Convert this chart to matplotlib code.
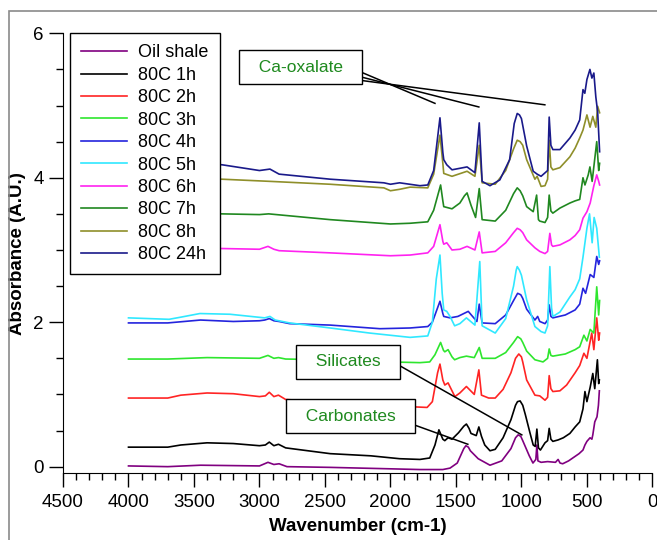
import matplotlib
matplotlib.use('Agg')
import matplotlib.pyplot as plt
from matplotlib.patches import Rectangle
from matplotlib.ticker import MultipleLocator

plt.rcParams['font.family'] = ['Liberation Sans', 'DejaVu Sans']

# (wavenumber cm-1, absorbance)
oil_shale = [(4000, 0.01), (3700, 0.0), (3450, 0.02), (3000, 0.01), (2935, 0.06), (2890, 0.03),
             (2850, 0.04), (2790, 0.0), (2460, -0.01), (2000, -0.03), (1775, -0.04), (1600, -0.04),
             (1545, -0.02), (1490, 0.05), (1460, 0.17), (1440, 0.25), (1424, 0.29), (1405, 0.27),
             (1390, 0.22), (1330, 0.11), (1240, 0.02), (1150, 0.08), (1080, 0.25), (1045, 0.40),
             (1025, 0.44), (1005, 0.42), (990, 0.36), (940, 0.15), (912, 0.05), (890, 0.10),
             (882, 0.30), (874, 0.08), (850, 0.06), (800, 0.07), (740, 0.06), (720, 0.10),
             (705, 0.05), (685, 0.04), (640, 0.08), (592, 0.14), (560, 0.18), (530, 0.23),
             (515, 0.30), (500, 0.35), (476, 0.40), (462, 0.38), (455, 0.44), (440, 0.62),
             (423, 0.69), (412, 0.85), (405, 1.05)]
h1 = [(4000, 0.27), (3700, 0.27), (3600, 0.30), (3400, 0.33), (3200, 0.32), (3000, 0.29),
      (2955, 0.30), (2925, 0.34), (2890, 0.29), (2855, 0.31), (2800, 0.26), (2460, 0.18),
      (2150, 0.15), (1930, 0.11), (1775, 0.10), (1700, 0.12), (1660, 0.30), (1630, 0.51),
      (1600, 0.38), (1585, 0.36), (1560, 0.40), (1530, 0.38), (1480, 0.47), (1440, 0.56),
      (1420, 0.59), (1400, 0.53), (1385, 0.46), (1345, 0.43), (1325, 0.55), (1305, 0.42),
      (1280, 0.30), (1240, 0.22), (1200, 0.24), (1140, 0.40), (1080, 0.65), (1045, 0.85),
      (1030, 0.90), (1010, 0.91), (990, 0.85), (970, 0.72), (935, 0.47), (910, 0.30),
      (895, 0.28), (882, 0.52), (870, 0.26), (855, 0.23), (820, 0.33), (800, 0.36),
      (788, 0.53), (775, 0.38), (760, 0.35), (720, 0.37), (680, 0.40), (630, 0.46),
      (590, 0.55), (555, 0.62), (530, 0.80), (515, 1.04), (500, 0.90), (475, 1.10),
      (455, 1.29), (440, 1.08), (420, 1.48), (410, 1.15), (405, 1.20)]
h2 = [(4000, 0.95), (3700, 0.95), (3600, 0.99), (3400, 1.02), (3200, 1.01), (3000, 0.97),
      (2955, 0.98), (2925, 1.03), (2890, 0.97), (2855, 0.99), (2800, 0.93), (2460, 0.89),
      (2000, 0.86), (1850, 0.83), (1720, 0.82), (1680, 0.90), (1640, 1.30), (1622, 1.42),
      (1600, 1.20), (1585, 1.13), (1560, 1.16), (1530, 1.05), (1508, 0.97), (1470, 1.02),
      (1420, 1.11), (1360, 1.00), (1325, 1.34), (1305, 0.99), (1250, 0.95), (1200, 0.95),
      (1140, 1.07), (1080, 1.30), (1045, 1.50), (1020, 1.56), (1000, 1.52), (990, 1.45),
      (960, 1.20), (897, 0.99), (860, 0.98), (820, 0.92), (800, 0.96), (788, 1.26),
      (775, 1.08), (760, 1.04), (706, 1.05), (655, 1.13), (590, 1.30), (555, 1.40),
      (523, 1.57), (500, 1.50), (463, 1.85), (447, 1.62), (425, 2.06), (410, 1.75), (403, 1.85)]
h3 = [(4000, 1.49), (3700, 1.49), (3400, 1.51), (3000, 1.50), (2935, 1.54), (2890, 1.50),
      (2855, 1.51), (2800, 1.49), (2460, 1.48), (2000, 1.45), (1775, 1.44), (1700, 1.45),
      (1660, 1.55), (1617, 1.72), (1595, 1.61), (1585, 1.59), (1560, 1.62), (1530, 1.52),
      (1510, 1.48), (1470, 1.51), (1420, 1.53), (1360, 1.51), (1322, 1.65), (1300, 1.50),
      (1200, 1.50), (1120, 1.58), (1060, 1.72), (1029, 1.80), (1005, 1.77), (990, 1.72),
      (960, 1.60), (897, 1.48), (835, 1.45), (800, 1.50), (788, 1.63), (775, 1.54),
      (760, 1.53), (665, 1.56), (590, 1.62), (555, 1.66), (523, 1.82), (500, 1.74),
      (475, 1.90), (447, 1.85), (425, 2.49), (410, 2.10), (403, 2.30)]
h4 = [(4000, 1.99), (3700, 1.99), (3450, 2.03), (3200, 2.01), (3000, 2.02), (2960, 2.03),
      (2925, 2.05), (2890, 2.02), (2850, 2.01), (2770, 1.98), (2460, 1.96), (2080, 1.91),
      (1850, 1.92), (1715, 1.94), (1680, 2.00), (1622, 2.29), (1600, 2.12), (1593, 2.08),
      (1545, 2.06), (1485, 2.08), (1406, 2.15), (1340, 2.01), (1322, 2.25), (1300, 1.99),
      (1200, 1.98), (1120, 2.10), (1060, 2.30), (1029, 2.40), (1005, 2.38), (990, 2.33),
      (960, 2.18), (897, 2.03), (876, 2.08), (860, 2.01), (820, 1.98), (800, 2.03),
      (788, 2.24), (775, 2.08), (760, 2.06), (665, 2.10), (590, 2.17), (555, 2.25),
      (530, 2.47), (510, 2.40), (475, 2.66), (447, 2.62), (425, 2.91), (410, 2.80), (403, 2.85)]
h5 = [(4000, 2.06), (3690, 2.04), (3600, 2.07), (3455, 2.12), (3225, 2.11), (2960, 2.06),
      (2920, 2.08), (2880, 2.03), (2770, 1.99), (2460, 1.92), (2160, 1.85), (1850, 1.79),
      (1715, 1.81), (1680, 2.00), (1650, 2.60), (1622, 2.93), (1605, 2.40), (1593, 2.17),
      (1570, 2.15), (1545, 2.08), (1510, 1.95), (1470, 1.98), (1420, 2.06), (1355, 1.96),
      (1318, 2.84), (1300, 1.95), (1200, 1.85), (1120, 2.05), (1060, 2.50), (1040, 2.72),
      (1032, 2.77), (1015, 2.72), (1000, 2.65), (960, 2.31), (897, 1.94), (850, 1.87),
      (820, 1.85), (800, 1.95), (783, 2.77), (770, 2.20), (760, 2.08), (706, 2.14),
      (630, 2.35), (590, 2.45), (555, 2.60), (530, 2.90), (500, 3.30), (480, 3.50),
      (460, 3.10), (445, 3.45), (425, 3.30), (405, 2.90)]
h6 = [(4000, 3.00), (3700, 3.00), (3287, 3.02), (3000, 3.01), (2935, 3.05), (2890, 3.01),
      (2850, 2.99), (2460, 2.96), (2000, 2.92), (1850, 2.93), (1715, 2.96), (1670, 3.05),
      (1622, 3.35), (1600, 3.12), (1593, 3.08), (1570, 3.10), (1530, 3.00), (1470, 3.01),
      (1415, 3.05), (1355, 3.00), (1322, 3.25), (1300, 2.96), (1200, 2.98), (1120, 3.10),
      (1060, 3.24), (1032, 3.30), (1010, 3.28), (990, 3.24), (960, 3.14), (897, 3.03),
      (860, 2.98), (820, 2.95), (800, 2.98), (783, 3.23), (770, 3.07), (760, 3.05),
      (706, 3.07), (630, 3.14), (590, 3.20), (555, 3.28), (530, 3.44), (500, 3.53),
      (475, 3.65), (447, 3.89), (425, 4.04), (410, 3.95), (403, 3.90)]
h7 = [(4000, 3.52), (3700, 3.51), (3287, 3.50), (3000, 3.49), (2930, 3.50), (2460, 3.42),
      (2000, 3.36), (1850, 3.37), (1715, 3.39), (1670, 3.55), (1617, 3.90), (1600, 3.68),
      (1593, 3.60), (1530, 3.57), (1470, 3.65), (1435, 3.75), (1415, 3.79), (1385, 3.62),
      (1350, 3.45), (1322, 3.85), (1300, 3.42), (1200, 3.40), (1120, 3.55), (1060, 3.78),
      (1032, 3.86), (1010, 3.82), (990, 3.75), (960, 3.60), (910, 3.53), (884, 3.76),
      (870, 3.42), (860, 3.40), (820, 3.38), (800, 3.45), (788, 3.76), (775, 3.54),
      (760, 3.51), (706, 3.58), (630, 3.65), (590, 3.68), (555, 3.70), (530, 4.00),
      (515, 3.90), (490, 4.04), (477, 4.15), (460, 3.95), (425, 4.50), (410, 4.10), (403, 4.20)]
h8 = [(4000, 4.00), (3700, 3.99), (3287, 3.98), (2920, 3.95), (2460, 3.91), (2050, 3.86),
      (2000, 3.82), (1930, 3.84), (1850, 3.87), (1715, 3.86), (1670, 4.05), (1622, 4.59),
      (1600, 4.20), (1593, 4.06), (1530, 4.02), (1415, 4.09), (1355, 4.02), (1322, 4.45),
      (1300, 3.93), (1200, 3.91), (1120, 4.10), (1060, 4.40), (1032, 4.52), (1010, 4.50),
      (990, 4.45), (960, 4.25), (897, 3.98), (880, 4.02), (850, 3.88), (820, 3.89),
      (800, 3.98), (788, 4.52), (775, 4.15), (760, 4.11), (706, 4.14), (630, 4.29),
      (590, 4.41), (555, 4.55), (530, 4.66), (500, 4.87), (476, 4.70), (455, 4.85),
      (432, 4.70), (418, 4.99), (403, 4.90)]
h24 = [(4000, 4.20), (3700, 4.19), (3287, 4.18), (3000, 4.10), (2920, 4.12), (2850, 4.05),
       (2460, 3.98), (2050, 3.93), (2000, 3.91), (1930, 3.93), (1775, 3.89), (1715, 3.90),
       (1670, 4.10), (1622, 4.83), (1600, 4.35), (1593, 4.25), (1570, 4.18), (1530, 4.11),
       (1415, 4.15), (1355, 4.07), (1322, 4.76), (1300, 3.95), (1240, 3.89), (1165, 3.97),
       (1090, 4.25), (1055, 4.75), (1032, 4.89), (1015, 4.87), (1000, 4.82), (960, 4.44),
       (910, 4.09), (880, 4.05), (850, 4.02), (800, 4.10), (788, 4.84), (775, 4.45),
       (760, 4.39), (706, 4.39), (630, 4.55), (590, 4.66), (555, 4.80), (530, 5.22),
       (516, 5.17), (500, 5.36), (477, 5.50), (462, 5.38), (447, 5.45), (432, 5.12),
       (418, 4.91), (403, 4.36)]

labels = ['Oil shale', '80C 1h', '80C 2h', '80C 3h', '80C 4h', '80C 5h',
          '80C 6h', '80C 7h', '80C 8h', '80C 24h']
series = [oil_shale, h1, h2, h3, h4, h5, h6, h7, h8, h24]
colors = ['#800080', '#000000', '#ff2424', '#2ee62e', '#2424dd', '#30e8ff',
          '#ff22f0', '#208820', '#8f8f2a', '#1a1a8a']

fig = plt.figure(figsize=(6.57, 5.4), dpi=100)
ax = fig.add_axes([63 / 657, 1 - 473.3 / 540, (652.4 - 63) / 657, (473.3 - 33.3) / 540])

for data, lab, col in zip(series, labels, colors):
    wn = [p[0] for p in data]
    ab = [p[1] for p in data]
    ax.plot(wn, ab, color=col, lw=1.2, label=lab)

ax.set_xlim(4500, 0)
ax.set_ylim(-0.092, 6.0)
for s in ['top', 'right']:
    ax.spines[s].set_visible(False)
ax.xaxis.set_major_locator(MultipleLocator(500))
ax.xaxis.set_minor_locator(MultipleLocator(100))
ax.yaxis.set_major_locator(MultipleLocator(2))
ax.yaxis.set_minor_locator(MultipleLocator(0.5))
ax.tick_params(which='major', length=10, width=1, labelsize=13.5, direction='out')
ax.tick_params(which='minor', length=5, width=1, direction='out')
ax.tick_params(axis='x', which='major', pad=5)
ax.tick_params(axis='y', which='major', pad=4)
ax.set_xlabel('Wavenumber (cm-1)', fontsize=13.5, fontweight='bold', labelpad=5)
ax.set_ylabel('Absorbance (A.U.)', fontsize=13.5, fontweight='bold', labelpad=5)

leg = ax.legend(loc='upper left', bbox_to_anchor=(0.012, 1.0), borderaxespad=0,
                fontsize=13, handlelength=2.55, handletextpad=0.6, labelspacing=0.3,
                fancybox=False, framealpha=1, edgecolor='black', borderpad=0.62)
leg.get_frame().set_linewidth(1.0)

green = '#1f8a1f'
box = dict(boxstyle='square,pad=0.55', facecolor='white', edgecolor='black', lw=1.0)
ax.text(2684, 5.53, '  Ca-oxalate  ', color=green, fontsize=12.5, ha='center', va='center', bbox=box)
ax.text(2325, 1.45, '  Silicates  ', color=green, fontsize=12.5, ha='center', va='center', bbox=box)
ax.text(2303, 0.70, '  Carbonates  ', color=green, fontsize=12.5, ha='center', va='center', bbox=box)

# pointer lines
ax.plot([2234, 1660], [5.47, 5.03], color='black', lw=1.1)
ax.plot([2234, 1325], [5.40, 4.98], color='black', lw=1.1)
ax.plot([2234, 821], [5.35, 5.01], color='black', lw=1.1)
ax.plot([1951, 997], [1.42, 0.44], color='black', lw=1.1)
ax.plot([1837, 1409], [0.59, 0.31], color='black', lw=1.1)

fig.patches.append(Rectangle((9 / 657, -0.05), 1.1, 1.05 - 11 / 540, transform=fig.transFigure,
                             fill=False, edgecolor='#8a8a8a', lw=1.2))

fig.savefig('out.png', dpi=100)
